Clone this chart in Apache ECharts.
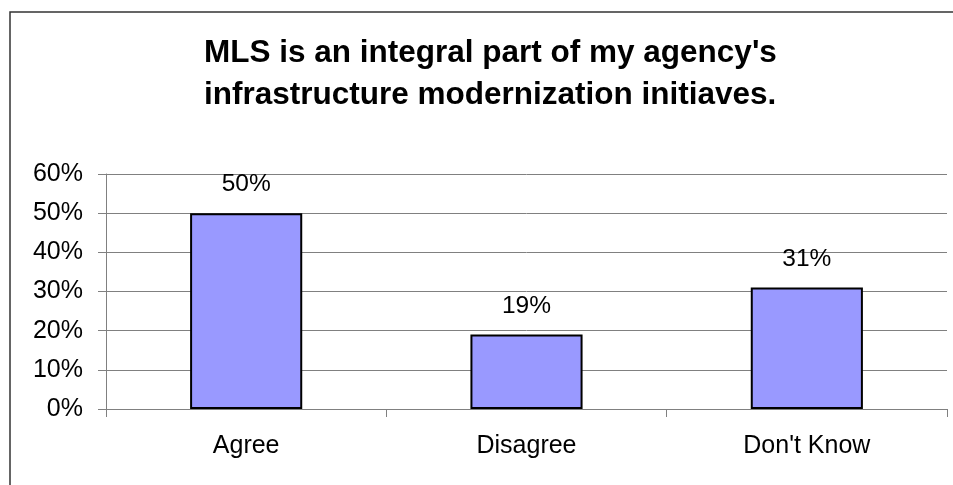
<!DOCTYPE html>
<html>
<head>
<meta charset="utf-8">
<script src="https://cdn.jsdelivr.net/npm/echarts@6/dist/echarts.min.js"></script>
<style>
  html, body { margin: 0; padding: 0; background: #fff; }
  #chart { width: 953px; height: 485px; }
</style>
</head>
<body>
<div id="chart"></div>
<script>
// Survey responses (percent of respondents)
const categories = ['Agree', 'Disagree', "Don't Know"];
const responseShare = [50, 19, 31];
const yTicks = { min: 0, max: 60, interval: 10 };
const chartTitle = "MLS is an integral part of my agency's\ninfrastructure modernization initiaves.";

const FONT = '"Liberation Sans", Arial, sans-serif';

const chart = echarts.init(document.getElementById('chart'), null, { renderer: 'canvas' });

chart.setOption({
  backgroundColor: '#ffffff',
  animation: false,
  title: {
    text: chartTitle,
    left: 199,
    top: 27,
    textStyle: {
      fontFamily: FONT,
      fontSize: 31.5,
      fontWeight: 'bold',
      color: '#000',
      lineHeight: 42
    }
  },
  graphic: [{
    type: 'rect',
    shape: { x: 10, y: 12, width: 1200, height: 1200 },
    style: { fill: 'none', stroke: '#333', lineWidth: 1.5 },
    silent: true
  }],
  grid: { left: 106, right: 6, top: 174, bottom: 76, containLabel: false },
  xAxis: {
    type: 'category',
    data: categories,
    boundaryGap: true,
    axisLine: { show: true, lineStyle: { color: '#808080', width: 1 } },
    axisTick: { show: true, length: 8, lineStyle: { color: '#808080' } },
    axisLabel: { fontFamily: FONT, fontSize: 25, color: '#000', margin: 25 }
  },
  yAxis: {
    type: 'value',
    min: yTicks.min,
    max: yTicks.max,
    interval: yTicks.interval,
    axisLine: { show: true, lineStyle: { color: '#808080', width: 1 } },
    axisTick: { show: true, length: 8, lineStyle: { color: '#808080' } },
    axisLabel: { fontFamily: FONT, fontSize: 25, color: '#000', margin: 23, formatter: '{value}%' },
    splitLine: { show: true, lineStyle: { color: '#808080', width: 1 } }
  },
  series: [{
    type: 'bar',
    data: responseShare,
    barCategoryGap: '60%',
    itemStyle: { color: '#9999FF', borderColor: '#000', borderWidth: 2 },
    label: {
      show: true,
      position: 'top',
      distance: 16,
      formatter: '{c}%',
      fontFamily: FONT,
      fontSize: 24.5,
      color: '#000'
    }
  }]
});
</script>
</body>
</html>
